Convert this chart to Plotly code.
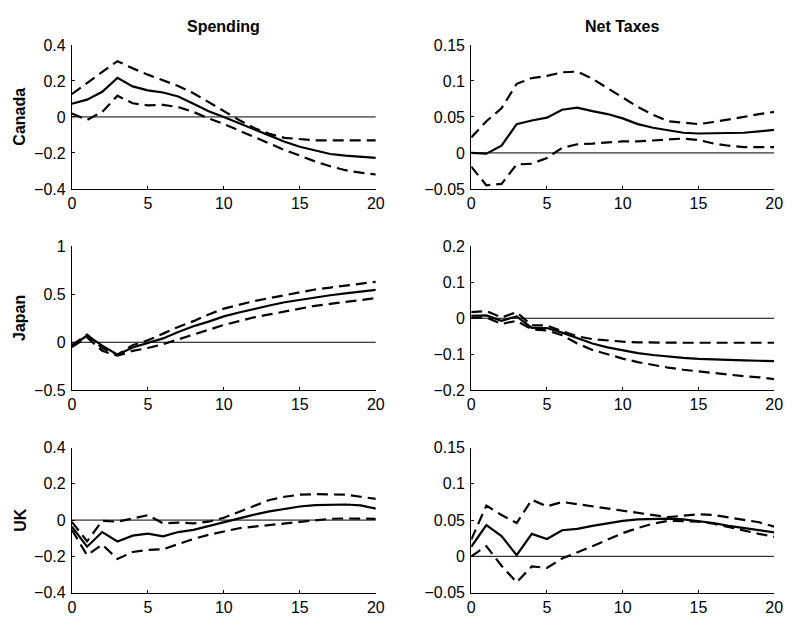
import plotly.graph_objects as go

# Horizon (quarters)
horizon = list(range(21))

# --- Canada ---
can_spend = [0.073, 0.096, 0.14, 0.217, 0.17, 0.148, 0.136, 0.114, 0.073, 0.031, 0.0,
             -0.035, -0.071, -0.107, -0.138, -0.166, -0.188, -0.206, -0.215, -0.222, -0.228]
can_spend_hi = [0.127, 0.19, 0.25, 0.31, 0.27, 0.235, 0.204, 0.172, 0.132, 0.082, 0.031,
                -0.017, -0.062, -0.094, -0.116, -0.125, -0.13, -0.13, -0.13, -0.13, -0.13]
can_spend_lo = [0.019, -0.017, 0.028, 0.118, 0.076, 0.064, 0.067, 0.055, 0.028, -0.008, -0.039,
                -0.076, -0.112, -0.148, -0.184, -0.215, -0.247, -0.274, -0.296, -0.31, -0.32]
can_tax = [0.0, -0.001, 0.010, 0.040, 0.045, 0.049, 0.060, 0.063, 0.058, 0.054, 0.048,
           0.040, 0.035, 0.031, 0.028, 0.027, 0.027, 0.0275, 0.028, 0.030, 0.032]
can_tax_hi = [0.0215, 0.044, 0.062, 0.096, 0.104, 0.107, 0.112, 0.113, 0.103, 0.090, 0.076,
              0.064, 0.053, 0.044, 0.042, 0.040, 0.043, 0.046, 0.050, 0.054, 0.057]
can_tax_lo = [-0.019, -0.045, -0.043, -0.016, -0.015, -0.007, 0.007, 0.012, 0.013, 0.015, 0.016,
              0.016, 0.017, 0.019, 0.020, 0.018, 0.013, 0.010, 0.008, 0.008, 0.008]

# --- Japan ---
jpn_spend = [-0.045, 0.073, -0.035, -0.13, -0.055, -0.011, 0.04, 0.107, 0.167, 0.215, 0.27,
             0.31, 0.35, 0.383, 0.417, 0.444, 0.47, 0.49, 0.51, 0.53, 0.545]
jpn_spend_hi = [-0.03, 0.08, -0.06, -0.13, -0.03, 0.02, 0.09, 0.16, 0.22, 0.29, 0.35,
                0.39, 0.43, 0.46, 0.49, 0.52, 0.55, 0.57, 0.59, 0.61, 0.63]
jpn_spend_lo = [-0.05, 0.05, -0.09, -0.14, -0.09, -0.06, -0.02, 0.03, 0.08, 0.13, 0.18,
                0.22, 0.26, 0.29, 0.32, 0.35, 0.38, 0.40, 0.42, 0.44, 0.46]
jpn_tax = [0.007, 0.008, -0.007, 0.005, -0.027, -0.027, -0.04, -0.056, -0.07, -0.081, -0.09,
           -0.097, -0.102, -0.107, -0.11, -0.113, -0.115, -0.116, -0.117, -0.118, -0.119]
jpn_tax_hi = [0.017, 0.02, 0.002, 0.017, -0.02, -0.02, -0.036, -0.05, -0.058, -0.062, -0.065,
              -0.067, -0.068, -0.068, -0.068, -0.068, -0.068, -0.068, -0.068, -0.068, -0.068]
jpn_tax_lo = [0.002, 0.002, -0.016, -0.007, -0.031, -0.034, -0.047, -0.07, -0.088, -0.101, -0.112,
              -0.122, -0.13, -0.137, -0.143, -0.148, -0.152, -0.157, -0.161, -0.164, -0.169]

# --- UK ---
uk_spend = [-0.036, -0.147, -0.066, -0.118, -0.086, -0.075, -0.09, -0.066, -0.054, -0.032, -0.013,
            0.009, 0.03, 0.048, 0.063, 0.075, 0.083, 0.086, 0.086, 0.081, 0.063]
uk_spend_hi = [-0.01, -0.117, -0.004, -0.009, 0.009, 0.027, -0.018, -0.014, -0.018, -0.009, 0.013,
               0.045, 0.081, 0.111, 0.129, 0.14, 0.143, 0.143, 0.14, 0.129, 0.117]
uk_spend_lo = [-0.054, -0.194, -0.135, -0.215, -0.176, -0.165, -0.161, -0.131, -0.104, -0.081, -0.063,
               -0.045, -0.036, -0.027, -0.018, -0.009, 0.0, 0.007, 0.009, 0.009, 0.007]
uk_tax = [0.013, 0.043, 0.028, 0.0015, 0.031, 0.024, 0.036, 0.038, 0.042, 0.046, 0.049,
          0.051, 0.052, 0.052, 0.051, 0.049, 0.046, 0.042, 0.039, 0.0365, 0.033]
uk_tax_hi = [0.023, 0.07, 0.057, 0.046, 0.078, 0.069, 0.075, 0.072, 0.07, 0.067, 0.063,
             0.06, 0.057, 0.054, 0.056, 0.058, 0.057, 0.054, 0.051, 0.047, 0.041]
uk_tax_lo = [0.0, 0.014, -0.013, -0.036, -0.014, -0.016, -0.003, 0.005, 0.014, 0.023, 0.032,
             0.039, 0.045, 0.049, 0.049, 0.048, 0.045, 0.04, 0.036, 0.031, 0.027]

countries = ["Canada", "Japan", "UK"]
col_titles = ["Spending", "Net Taxes"]

panels = [
    [(can_spend, can_spend_hi, can_spend_lo), (can_tax, can_tax_hi, can_tax_lo)],
    [(jpn_spend, jpn_spend_hi, jpn_spend_lo), (jpn_tax, jpn_tax_hi, jpn_tax_lo)],
    [(uk_spend, uk_spend_hi, uk_spend_lo), (uk_tax, uk_tax_hi, uk_tax_lo)],
]

y_ticks = [
    [[-0.4, -0.2, 0, 0.2, 0.4], [-0.05, 0, 0.05, 0.1, 0.15]],
    [[-0.5, 0, 0.5, 1], [-0.2, -0.1, 0, 0.1, 0.2]],
    [[-0.4, -0.2, 0, 0.2, 0.4], [-0.05, 0, 0.05, 0.1, 0.15]],
]
y_ticktext = [
    [["\u22120.4", "\u22120.2", "0", "0.2", "0.4"], ["\u22120.05", "0", "0.05", "0.1", "0.15"]],
    [["\u22120.5", "0", "0.5", "1"], ["\u22120.2", "\u22120.1", "0", "0.1", "0.2"]],
    [["\u22120.4", "\u22120.2", "0", "0.2", "0.4"], ["\u22120.05", "0", "0.05", "0.1", "0.15"]],
]
x_ticks = [0, 5, 10, 15, 20]

W, H = 793, 621
col_px = [(69, 378), (475, 783)]
row_px = [(38, 186), (245, 393), (452, 601)]

FONT = "Liberation Sans, Arial, Helvetica, sans-serif"

fig = go.Figure()
layout = dict(
    width=W, height=H,
    margin=dict(l=0, r=0, t=0, b=0),
    paper_bgcolor="white", plot_bgcolor="white",
    showlegend=False,
    font=dict(family=FONT, size=16, color="black"),
)

annotations = []
idx = 0
for r in range(3):
    for c in range(2):
        idx += 1
        xa = "x" if idx == 1 else f"x{idx}"
        ya = "y" if idx == 1 else f"y{idx}"
        mid, hi, lo = panels[r][c]
        # zero reference line
        fig.add_trace(go.Scatter(x=[horizon[0], horizon[-1]], y=[0, 0], mode="lines",
                                 line=dict(color="black", width=1), xaxis=xa, yaxis=ya,
                                 hoverinfo="skip"))
        for band in (hi, lo):
            fig.add_trace(go.Scatter(x=horizon, y=band, mode="lines",
                                     line=dict(color="black", width=2.2, dash="11px,6px"),
                                     xaxis=xa, yaxis=ya))
        fig.add_trace(go.Scatter(x=horizon, y=mid, mode="lines",
                                 line=dict(color="black", width=2.2),
                                 xaxis=xa, yaxis=ya))

        x0, x1 = col_px[c]
        t0, t1 = row_px[r]
        yt = y_ticks[r][c]
        layout["xaxis" if idx == 1 else f"xaxis{idx}"] = dict(
            domain=[x0 / W, x1 / W], anchor=ya, range=[0, 20],
            tickvals=x_ticks, ticks="inside", ticklen=3, tickcolor="black",
            showline=True, linecolor="black", linewidth=1, mirror=False,
            showgrid=False, zeroline=False, tickfont=dict(size=16),
        )
        layout["yaxis" if idx == 1 else f"yaxis{idx}"] = dict(
            domain=[1 - t1 / H, 1 - t0 / H], anchor=xa, range=[yt[0], yt[-1]],
            tickvals=yt, ticktext=y_ticktext[r][c], ticks="inside", ticklen=3,
            tickcolor="black", showline=True, linecolor="black", linewidth=1,
            mirror=False, showgrid=False, zeroline=False, tickfont=dict(size=16),
            ticklabelstandoff=2,
        )
        if c == 0:
            annotations.append(dict(
                text=f"<b>{countries[r]}</b>", xref="paper", yref="paper",
                x=16 / W, y=1 - ((t0 + t1) / 2) / H, textangle=-90,
                showarrow=False, font=dict(size=16), xanchor="center", yanchor="middle"))
        if r == 0:
            annotations.append(dict(
                text=f"<b>{col_titles[c]}</b>", xref="paper", yref="paper",
                x=((x0 + x1) / 2) / W, y=1 - 19 / H, showarrow=False,
                font=dict(size=16), xanchor="center", yanchor="middle"))

layout["annotations"] = annotations
fig.update_layout(**layout)
fig.write_html("out.html")
